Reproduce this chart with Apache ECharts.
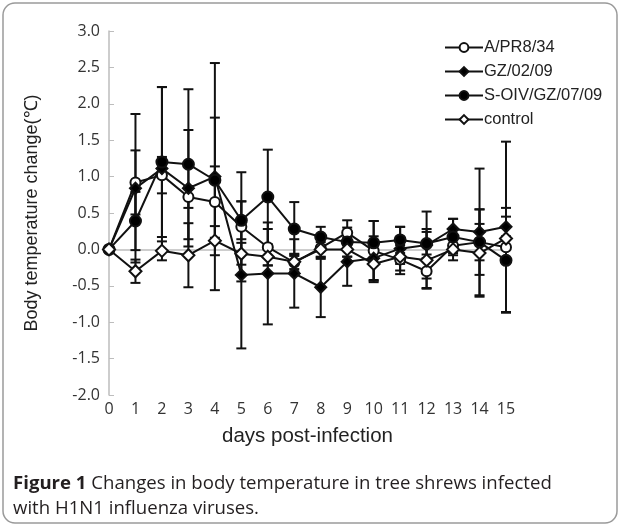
<!DOCTYPE html>
<html>
<head>
<meta charset="utf-8">
<script src="https://cdn.jsdelivr.net/npm/echarts@6/dist/echarts.min.js"></script>
<style>
  html, body { margin: 0; padding: 0; background: #fff; }
  #chart { width: 622px; height: 528px; }
</style>
</head>
<body>
<div id="chart"></div>
<script>
var days = [0, 1, 2, 3, 4, 5, 6, 7, 8, 9, 10, 11, 12, 13, 14, 15];

var pr8Mean = [0, 0.92, 1.02, 0.72, 0.65, 0.31, 0.03, -0.18, 0.02, 0.23, -0.02, -0.14, -0.30, 0.05, 0.10, 0.03];
var pr8Sd   = [0, 0.44, 0.25, 0.15, 0.49, 0.75, 0.25, 0.12, 0.15, 0.17, 0.41, 0.20, 0.23, 0.10, 0.45, 0.15];

var gzMean = [0, 0.84, 1.11, 0.84, 1.00, -0.35, -0.33, -0.33, -0.52, -0.17, -0.12, 0.01, 0.06, 0.28, 0.24, 0.31];
var gzSd   = [0, 1.02, 1.12, 0.80, 1.56, 1.01, 0.70, 0.47, 0.41, 0.33, 0.30, 0.30, 0.46, 0.14, 0.87, 1.17];

var soivMean = [0, 0.39, 1.20, 1.17, 0.95, 0.40, 0.72, 0.28, 0.17, 0.10, 0.09, 0.13, 0.08, 0.17, 0.10, -0.15];
var soivSd   = [0, 0.40, 1.03, 1.03, 0.86, 0.26, 0.65, 0.37, 0.14, 0.20, 0.30, 0.18, 0.20, 0.25, 0.25, 0.72];

var ctrlMean = [0, -0.30, -0.02, -0.08, 0.12, -0.06, -0.10, -0.17, 0.00, 0.00, -0.20, -0.10, -0.15, 0.00, -0.05, 0.15];
var ctrlSd   = [0, 0.16, 0.13, 0.44, 0.20, 0.15, 0.12, 0.10, 0.10, 0.10, 0.25, 0.10, 0.39, 0.15, 0.60, 0.30];

var groups = [
  { name: 'A/PR8/34', mean: pr8Mean, sd: pr8Sd, symbol: 'circle', size: 10, fill: '#fff' },
  { name: 'GZ/02/09', mean: gzMean, sd: gzSd, symbol: 'diamond', size: 11, fill: '#000' },
  { name: 'S-OIV/GZ/07/09', mean: soivMean, sd: soivSd, symbol: 'circle', size: 11, fill: '#000' },
  { name: 'control', mean: ctrlMean, sd: ctrlSd, symbol: 'diamond', size: 12, fill: '#fff' }
];

function errorBars(g) {
  return {
    type: 'custom',
    name: g.name + ' sd',
    silent: true,
    z: 1,
    data: days.map(function (d, i) { return [d, g.mean[i] - g.sd[i], g.mean[i] + g.sd[i]]; }),
    renderItem: function (params, api) {
      var lo = api.coord([api.value(0), api.value(1)]);
      var hi = api.coord([api.value(0), api.value(2)]);
      var w = 5;
      var st = { stroke: '#111', lineWidth: 2 };
      return {
        type: 'group',
        children: [
          { type: 'line', shape: { x1: lo[0], y1: lo[1], x2: hi[0], y2: hi[1] }, style: st },
          { type: 'line', shape: { x1: lo[0] - w, y1: lo[1], x2: lo[0] + w, y2: lo[1] }, style: st },
          { type: 'line', shape: { x1: hi[0] - w, y1: hi[1], x2: hi[0] + w, y2: hi[1] }, style: st }
        ]
      };
    }
  };
}

var series = [];
groups.forEach(function (g) { series.push(errorBars(g)); });
groups.forEach(function (g) {
  series.push({
    type: 'line',
    name: g.name,
    z: 3,
    data: days.map(function (d, i) { return [d, g.mean[i]]; }),
    symbol: g.symbol,
    symbolSize: g.size,
    showAllSymbol: true,
    lineStyle: { color: '#111', width: 2 },
    itemStyle: { color: g.fill, borderColor: '#111', borderWidth: 2 }
  });
});

var chart = echarts.init(document.getElementById('chart'));
chart.setOption({
  animation: false,
  backgroundColor: '#fff',
  textStyle: { fontFamily: 'Liberation Sans, Arial, sans-serif' },
  grid: { left: 109, right: 116, top: 31, bottom: 133 },
  legend: {
    data: groups.map(function (g) { return g.name; }),
    orient: 'vertical',
    left: 439,
    top: 34,
    itemWidth: 38,
    itemHeight: 11,
    itemGap: 7,
    textStyle: { fontSize: 16.5, color: '#222', fontFamily: 'Liberation Sans, Arial, sans-serif', padding: [0, 0, 0, -4] }
  },
  xAxis: {
    type: 'value',
    min: 0,
    max: 15,
    interval: 1,
    name: 'days post-infection',
    nameLocation: 'middle',
    nameGap: 31,
    nameTextStyle: { fontSize: 20.5, color: '#222' },
    splitLine: { show: false },
    axisLine: { lineStyle: { color: '#bdbdbd', width: 1.5 } },
    axisTick: { inside: true, length: 5, lineStyle: { color: '#bdbdbd' } },
    axisLabel: { fontSize: 16, color: '#333', margin: 6, fontFamily: 'Open Sans, sans-serif' }
  },
  yAxis: {
    type: 'value',
    min: -2,
    max: 3,
    interval: 0.5,
    name: 'Body temperature change(℃)',
    nameLocation: 'middle',
    nameGap: 68,
    nameTextStyle: { fontSize: 18, color: '#222' },
    splitLine: { show: false },
    axisLine: { show: true, lineStyle: { color: '#bdbdbd', width: 1.5 } },
    axisTick: { show: true, inside: true, length: 5, lineStyle: { color: '#bdbdbd' } },
    axisLabel: {
      fontSize: 16, color: '#333', margin: 9, fontFamily: 'Open Sans, sans-serif',
      formatter: function (v) { return v.toFixed(1); }
    }
  },
  graphic: [
    {
      type: 'rect',
      shape: { x: 3, y: 3, width: 614, height: 520, r: 12 },
      style: { fill: 'none', stroke: '#9a9a9a', lineWidth: 1.5 },
      z: -1
    },
    {
      type: 'text',
      left: 13,
      top: 471,
      style: {
        text: '{b|Figure 1} Changes in body temperature in tree shrews infected\nwith H1N1 influenza viruses.',
        fontSize: 18.6,
        lineHeight: 25,
        fill: '#231f20',
        fontFamily: 'Open Sans, sans-serif',
        rich: { b: { fontWeight: 'bold', fontSize: 18.6, fill: '#231f20', fontFamily: 'Open Sans, sans-serif' } }
      }
    }
  ],
  series: series
});
</script>
</body>
</html>
